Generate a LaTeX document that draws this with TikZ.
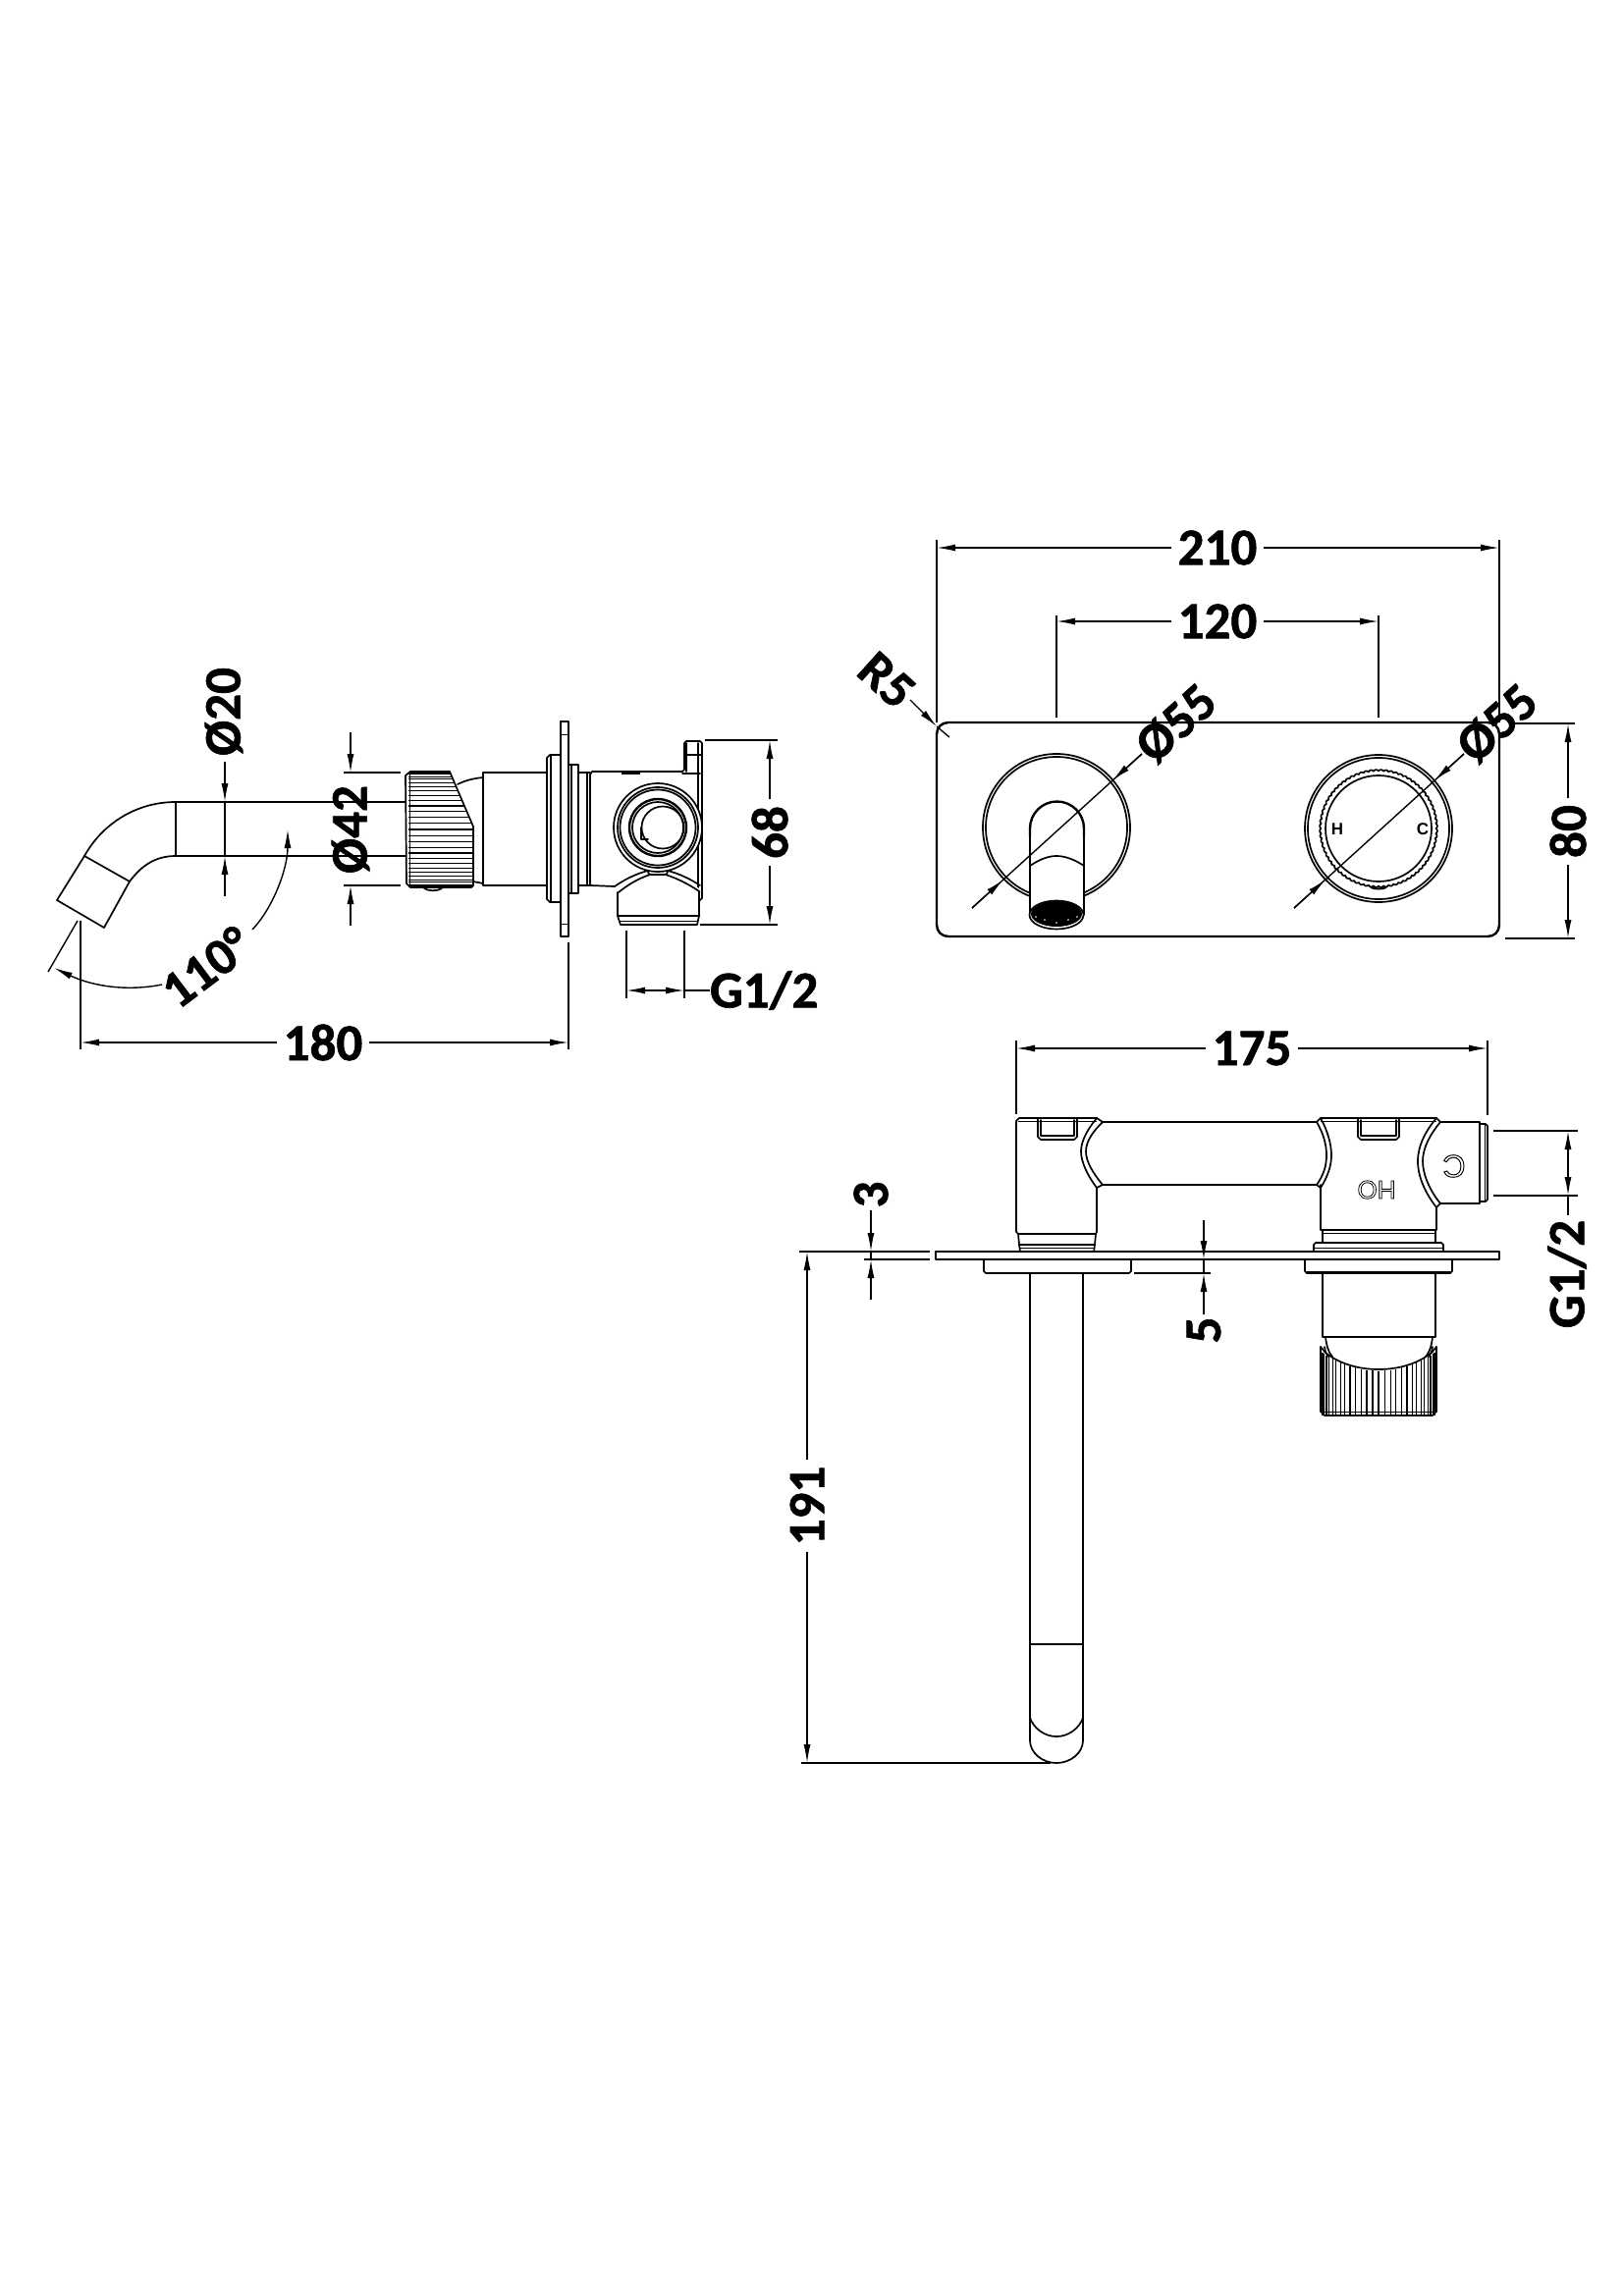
\documentclass[tikz,border=0pt]{standalone}
\usepackage{fontspec}
\setmainfont{Carlito}
\newfontfamily\labelfont{Liberation Sans}
\newfontfamily\dimfont[BoldFeatures={FakeBold=1.2}]{Carlito}
\newfontfamily\outlinefont[FakeBold=3]{Liberation Sans}
\usetikzlibrary{arrows.meta}
\newcommand{\hollow}[1]{\special{pdf:code 0 0 0 RG 1 1 1 rg}#1\special{pdf:code 0 0 0 RG 0 0 0 rg}}
\tikzset{
 part/.style={line width=1.7pt,line join=round,line cap=round,draw=black},
 heavy/.style={line width=2.4pt,line join=round,line cap=round,draw=black},
 fine/.style={line width=1pt,draw=black},
 dimline/.style={line width=1.4pt,draw=black},
 both/.style={dimline,{Latex[length=19pt,width=7pt]}-{Latex[length=19pt,width=7pt]}},
 tip/.style={dimline,-{Latex[length=19pt,width=7pt]}},
 dimtext/.style={font=\fontsize{53}{53}\dimfont\bfseries,inner sep=0pt,outer sep=7pt},
}
\begin{document}
\begin{tikzpicture}[x=1pt,y=-1pt]
\useasboundingbox (0,0) rectangle (1653,2339);
\fill[white] (0,0) rectangle (1653,2339);

%% ---------- left view: spout ----------
\draw[part] (413,817) -- (179,817) .. controls (140,817) and (105,838) .. (86,872)
  -- (58,917) -- (106,945) -- (132,898) .. controls (144,882) and (158,872) .. (179,872) -- (413,872);
\draw[part] (179,817) -- (179,872);
\draw[part] (86,872) -- (132,898);

%% knurled nut
\draw[part] (418,786) -- (458,786) -- (482,842) -- (482,902) -- (480,904) -- (418,904) -- (414,900) -- (413,790) -- cycle;
\foreach \a in {-84,-78,...,84}{
  \pgfmathsetmacro\yy{845+59*sin(\a)}
  \pgfmathsetmacro\xx{\yy<842 ? 458+(\yy-786)*24/56 : 482}
  \draw[fine,line width=1.1pt] (416,\yy) -- (\xx,\yy);
}
\draw[fine] (417,787) -- (417,903);
\draw[part] (432,905) .. controls (436,908) and (446,908) .. (450,905);
\draw[part] (466,799) .. controls (474,795) and (482,793) .. (492,792);
\draw[part] (482,898) -- (492,900);

%% stem
\draw[part] (557,787) -- (492,787) -- (492,902) -- (557,902);

%% flange, plate, rings
\draw[part] (571,769) -- (560,769) -- (557,772) -- (557,916) -- (560,919) -- (571,919);
\draw[part] (561,770) -- (561,918);
\draw[part] (571,735) rectangle (579,954);
\draw[fine] (571,748) -- (579,748) (571,941) -- (579,941);
\draw[part] (579,779) -- (589,779) -- (589,910) -- (579,910);
\draw[part] (582,779) -- (582,910);
\draw[part] (589,787) -- (601,787) (589,902) -- (601,902);
\draw[part] (598,787) -- (598,902);

%% valve body
\draw[part] (601,902) -- (601,789) -- (603,786) -- (695,786) -- (697,784) -- (697,757) -- (699,755) -- (713,755) -- (715,757) -- (715,915) -- (713,917) -- (712,917);
\draw[part] (697,769) -- (715,769);
\draw[part] (695,788) -- (713,788);
\draw[part] (699,757) -- (699,786);
\draw[part] (711,757) -- (711,915);
\draw[part] (601,902) -- (626,903);
\draw[line width=4pt] (633,787) -- (652,787);

%% nozzle below body
\fill[white] (629,905) -- (660,887) -- (680,887) -- (712,905) -- (712,933) -- (629,933) -- cycle;
\draw[part] (626,903) .. controls (636,896) and (648,890) .. (660,887);
\draw[part] (630,909) .. controls (640,901) and (650,895) .. (662,891);
\draw[part] (680,887) .. controls (692,890) and (704,896) .. (713,902);
\draw[part] (678,891) .. controls (690,895) and (702,901) .. (712,908);
\draw[part] (660,887) .. controls (660,891) and (662,891) .. (664,891) -- (676,891) .. controls (680,891) and (680,889) .. (680,887);
\draw[part] (629,909) -- (629,933) -- (632,942) -- (710,942) -- (712,933) -- (712,908);
\draw[part] (629,933) -- (712,933);
\draw[fine] (631,938) -- (711,938);

%% outlet circles
\fill[white] (670,843) circle (45pt);
\draw[part] (670,843) circle (45pt);
\draw[part] (670,843) circle (41pt);
\draw[part] (670,843) circle (38.5pt);
\draw[heavy] (670,843) circle (29pt);
\draw[part] (670,843) circle (26pt);
\draw[part] (675,843) circle (21.5pt);
\draw[part] (653,843) -- (653,855) -- (660,855);

%% ---------- front view ----------
\draw[heavy] (966,736) -- (1515,736) .. controls (1522,736) and (1527,741) .. (1527,748)
  -- (1527,942) .. controls (1527,949) and (1522,954) .. (1515,954)
  -- (966,954) .. controls (959,954) and (954,949) .. (954,942)
  -- (954,748) .. controls (954,741) and (959,736) .. (966,736) -- cycle;

%% left rosette and spout
\draw[part] (1076,843) circle (75pt);
\draw[part] (1076,843) circle (72pt);
\fill[white] (1049,844) -- (1049,932) -- (1104,932) -- (1104,844) arc[start angle=0,end angle=180,radius=27.5pt] -- cycle;
\draw[heavy] (1049,852) -- (1049,844) arc[start angle=180,end angle=0,radius=27.5pt] -- (1104,852);
\draw[part] (1049,850) -- (1049,932);
\draw[part] (1104,850) -- (1104,932);
\draw[part] (1049,882) .. controls (1058,876) and (1067,872) .. (1076,872) .. controls (1085,872) and (1095,876) .. (1104,882);
\filldraw[part,fill=white] (1076,932) ellipse (27.5pt and 14.5pt);
\fill[black] (1076,931) ellipse (26pt and 13pt);
\foreach \p/\q in {1064/937,1076/940,1088/937,1055/934,1097/934}{\fill[white] (\p,\q) circle (0.9pt);}

%% right handle
\draw[part] (1404,844) circle (75pt);
\draw[part] (1404,844) circle (72pt);
\draw[part] plot[domain=0:360,samples=361] ({1404+(58.6+1.4*abs(sin(\x*36)))*cos(\x)},{844+(58.6+1.4*abs(sin(\x*36)))*sin(\x)});
\draw[part] (1404,844) circle (54pt);
\draw[line width=2pt] (1396,904) .. controls (1400,906) and (1408,906) .. (1412,904);
\node[font=\labelfont\fontsize{17}{17}\selectfont\bfseries,inner sep=0pt] (lblH) at (1362,845) {H};
\node[font=\labelfont\fontsize{17}{17}\selectfont\bfseries,inner sep=0pt] (lblC) at (1449,845) {C};

%% ---------- top view ----------
%% plate
\draw[heavy] (953,1275) -- (1527,1275) -- (1527,1283) -- (953,1283) -- cycle;

%% left head
\draw[part] (1037,1257) -- (1035,1255) -- (1035,1142) -- (1038,1139) -- (1117,1139);
\draw[part] (1117,1210) -- (1117,1255) -- (1116,1257) -- (1037,1257);
\draw[part] (1037,1257) -- (1038,1268) -- (1115,1268) -- (1116,1257);
\draw[part] (1038,1268) -- (1039,1275) (1115,1268) -- (1114,1275);
\draw[fine] (1039,1271) -- (1114,1271);
\draw[fine] (1037,1142) -- (1117,1142);
\draw[part] (1057,1139) -- (1057,1158) -- (1060,1161) -- (1094,1161) -- (1097,1158) -- (1097,1139);
\draw[part] (1060,1141) -- (1060,1157) -- (1094,1157) -- (1094,1141);
\draw[part] (1117,1139) .. controls (1108,1150) and (1101,1162) .. (1101,1173) .. controls (1101,1184) and (1108,1198) .. (1117,1210);
\draw[part] (1117,1139) -- (1123,1143) .. controls (1114,1152) and (1106,1162) .. (1106,1173) .. controls (1106,1184) and (1114,1196) .. (1123,1207) -- (1117,1210);
%% pipe between
\draw[part] (1123,1143) -- (1341,1143);
\draw[part] (1123,1207) -- (1341,1207);

%% right head
\draw[part] (1345,1207) -- (1345,1253) -- (1463,1253) -- (1463,1230);
\draw[part] (1345,1139) -- (1463,1139);
\draw[fine] (1345,1142) -- (1463,1142);
\draw[part] (1383,1139) -- (1383,1158) -- (1386,1161) -- (1422,1161) -- (1425,1158) -- (1425,1139);
\draw[part] (1386,1141) -- (1386,1157) -- (1422,1157) -- (1422,1141);
\draw[part] (1345,1139) -- (1341,1143) .. controls (1348,1155) and (1351,1166) .. (1351,1177) .. controls (1351,1188) and (1348,1197) .. (1341,1207) -- (1345,1210) .. controls (1352,1199) and (1356,1188) .. (1356,1177) .. controls (1356,1165) and (1352,1152) .. (1345,1139);
\draw[part] (1463,1139) -- (1467,1143) .. controls (1457,1155) and (1449,1169) .. (1449,1183) .. controls (1449,1197) and (1457,1214) .. (1467,1226) -- (1463,1230) .. controls (1452,1216) and (1444,1199) .. (1444,1183) .. controls (1444,1167) and (1452,1152) .. (1463,1139);
\draw[part] (1467,1143) -- (1507,1143) -- (1507,1226) -- (1467,1226);
\draw[part] (1507,1145) -- (1513,1145) -- (1515,1147) -- (1515,1222) -- (1513,1224) -- (1507,1224);
\draw[fine] (1512,1145) -- (1512,1224);
\node[font=\outlinefont\fontsize{26}{26}\selectfont,inner sep=0pt,rotate=180] (lblOH) at (1402,1212) {\hollow{HO}};
\node[font=\outlinefont\fontsize{32}{32}\selectfont,inner sep=0pt,rotate=180] (lblCC) at (1481,1188) {\hollow{C}};

%% collars above plate, right
\draw[part] (1347,1253) -- (1347,1266) (1462,1253) -- (1462,1266);
\draw[fine] (1347,1256) -- (1462,1256);
\draw[part] (1338,1275) -- (1338,1268) -- (1340,1266) -- (1468,1266) -- (1470,1268) -- (1470,1275);
\draw[fine] (1338,1271) -- (1470,1271);

%% flanges under plate
\draw[part] (1002,1283) -- (1002,1295) -- (1004,1297) -- (1150,1297) -- (1152,1295) -- (1152,1283);
\draw[part] (1329,1283) -- (1329,1295) -- (1331,1297) -- (1477,1297) -- (1479,1295) -- (1479,1283);
\draw[fine] (1329,1295) -- (1479,1295);

%% long spout
\draw[part] (1049,1297) -- (1049,1773) .. controls (1049,1786) and (1062,1796) .. (1076,1796) .. controls (1090,1796) and (1103,1786) .. (1103,1773) -- (1103,1297);
\draw[part] (1049,1675) -- (1103,1675);
\draw[part] (1049,1750) .. controls (1053,1761) and (1064,1769) .. (1076,1769) .. controls (1088,1769) and (1099,1761) .. (1103,1750);

%% cylinder under right flange
\draw[part] (1347,1297) -- (1347,1362) -- (1462,1362) -- (1462,1297);
\draw[part] (1350,1362) .. controls (1351,1370) and (1352,1376) .. (1357,1382);
\draw[part] (1459,1362) .. controls (1458,1370) and (1457,1376) .. (1452,1382);

%% knurled handle
\draw[part] (1345,1372) -- (1345,1438) -- (1349,1442) -- (1459,1442) -- (1463,1438) -- (1463,1372);
\draw[part] (1345,1372) -- (1350,1378) .. controls (1365,1390) and (1385,1395) .. (1404,1395) .. controls (1423,1395) and (1443,1390) .. (1458,1378) -- (1463,1372);
\draw[part] (1349,1372) .. controls (1350,1378) and (1351,1380) .. (1353,1382);
\draw[part] (1459,1372) .. controls (1458,1378) and (1457,1380) .. (1455,1382);
\foreach \a in {-84,-78,...,84}{
  \pgfmathsetmacro\xx{1404+58*sin(\a)}
  \pgfmathsetmacro\yy{1395.5-19*(sin(\a))^2+1}
  \draw[fine,line width=1.1pt] (\xx,\yy) -- (\xx,1442);
}
\draw[fine] (1346,1438) -- (1462,1438);

%% ---------- dimensions ----------
\node[dimtext,rotate=90] (d20) at (228,725) {Ø20};
\draw[tip] (229,776) -- (229,817);
\draw[tip] (229,913) -- (229,872);
\draw[dimline] (229,817) -- (229,872);

\node[dimtext,rotate=90] (d42) at (357,845) {Ø42};
\draw[dimline] (350,787) -- (408,787) (350,902) -- (408,902);
\draw[tip] (357,746) -- (357,787);
\draw[tip] (357,943) -- (357,902);

\node[dimtext,rotate=37] (d110) at (210,985) {110°};
\coordinate (a1) at (293,845);
\coordinate (a2) at (55,986);
\draw[tip] (257,947) .. controls (278,925) and (293,885) .. (a1);
\draw[tip] (165,1003) .. controls (130,1010) and (95,1005) .. (a2);
\draw[dimline] (79,938) -- (49,990);
\draw[dimline] (82,938) -- (82,1069);

\node[dimtext] (d180) at (329,1062) {180};
\coordinate (e1) at (82,1062);
\coordinate (e2) at (579,1062);
\draw[tip] (d180) -- (e1);
\draw[tip] (d180) -- (e2);
\draw[dimline] (579,960) -- (579,1069);

\node[dimtext,rotate=90] (d68) at (784,848) {68};
\coordinate (f1) at (784,754);
\coordinate (f2) at (784,942);
\draw[tip] (d68) -- (f1);
\draw[tip] (d68) -- (f2);
\draw[dimline] (718,754) -- (792,754) (713,942) -- (792,942);

\node[dimtext,anchor=west,outer sep=0pt] (dg1) at (723,1009) {G1/2};
\coordinate (g1) at (638,1009);
\coordinate (g2) at (697,1009);
\draw[both] (g1) -- (g2);
\draw[dimline] (697,1009) -- (dg1.west);
\draw[dimline] (638,948) -- (638,1017) (697,948) -- (697,1017);

\node[dimtext] (d210) at (1240,558) {210};
\coordinate (h1) at (954,558);
\coordinate (h2) at (1527,558);
\draw[tip] (d210) -- (h1);
\draw[tip] (d210) -- (h2);
\draw[dimline] (954,550) -- (954,736) (1527,550) -- (1527,736);

\node[dimtext] (d120) at (1240,633) {120};
\coordinate (i1) at (1076,633);
\coordinate (i2) at (1404,633);
\draw[tip] (d120) -- (i1);
\draw[tip] (d120) -- (i2);
\draw[dimline] (1076,627) -- (1076,731) (1404,627) -- (1404,731);

\node[dimtext,rotate=-42] (dr5) at (903,693) {R5};
\coordinate (r1) at (954,740);
\coordinate (r2) at (967,751);
\draw[tip] (927,713) -- (r1);
\draw[dimline] (r1) -- (r2);

\node[dimtext,rotate=42] (d55a) at (1198,737) {Ø55};
\draw[dimline] (990,925) -- (1163,768);
\draw[tip] (990,925) -- (1022,896);
\draw[tip] (1163,768) -- (1133,795);

\node[dimtext,rotate=42] (d55b) at (1525,737) {Ø55};
\draw[dimline] (1318,925) -- (1491,768);
\draw[tip] (1318,925) -- (1350,896);
\draw[tip] (1491,768) -- (1461,795);

\node[dimtext,rotate=90] (d80) at (1597,847) {80};
\coordinate (j1) at (1597,737);
\coordinate (j2) at (1597,956);
\draw[tip] (d80) -- (j1);
\draw[tip] (d80) -- (j2);
\draw[dimline] (1537,737) -- (1604,737) (1533,956) -- (1604,956);

\node[dimtext] (d175) at (1275,1068) {175};
\coordinate (k1) at (1035,1068);
\coordinate (k2) at (1515,1068);
\draw[tip] (d175) -- (k1);
\draw[tip] (d175) -- (k2);
\draw[dimline] (1035,1060) -- (1035,1135) (1515,1060) -- (1515,1136);

\node[dimtext,rotate=90] (dg2) at (1596,1298) {G1/2};
\coordinate (l1) at (1597,1152);
\coordinate (l2) at (1597,1218);
\draw[both] (l1) -- (l2);
\draw[dimline] (l2) -- (1597,1238);
\draw[dimline] (1521,1152) -- (1607,1152) (1521,1218) -- (1607,1218);

\node[dimtext,rotate=90] (d3) at (887,1217) {3};
\draw[tip] (887,1233) -- (887,1275);
\draw[tip] (887,1324) -- (887,1283);
\draw[dimline] (887,1275) -- (887,1283);
\draw[dimline] (814,1275) -- (947,1275) (880,1283) -- (947,1283);

\node[dimtext,rotate=90] (d5) at (1226,1355) {5};
\draw[tip] (1226,1243) -- (1226,1283);
\draw[tip] (1226,1339) -- (1226,1297);
\draw[dimline] (1226,1283) -- (1226,1297);
\draw[dimline] (1157,1283) -- (1233,1283) (1155,1297) -- (1233,1297);

\node[dimtext,rotate=90] (d191) at (822,1534) {191};
\coordinate (m1) at (822,1275);
\coordinate (m2) at (822,1796);
\draw[tip] (d191) -- (m1);
\draw[tip] (d191) -- (m2);
\draw[dimline] (816,1796) -- (1070,1796);
\end{tikzpicture}
\end{document}
